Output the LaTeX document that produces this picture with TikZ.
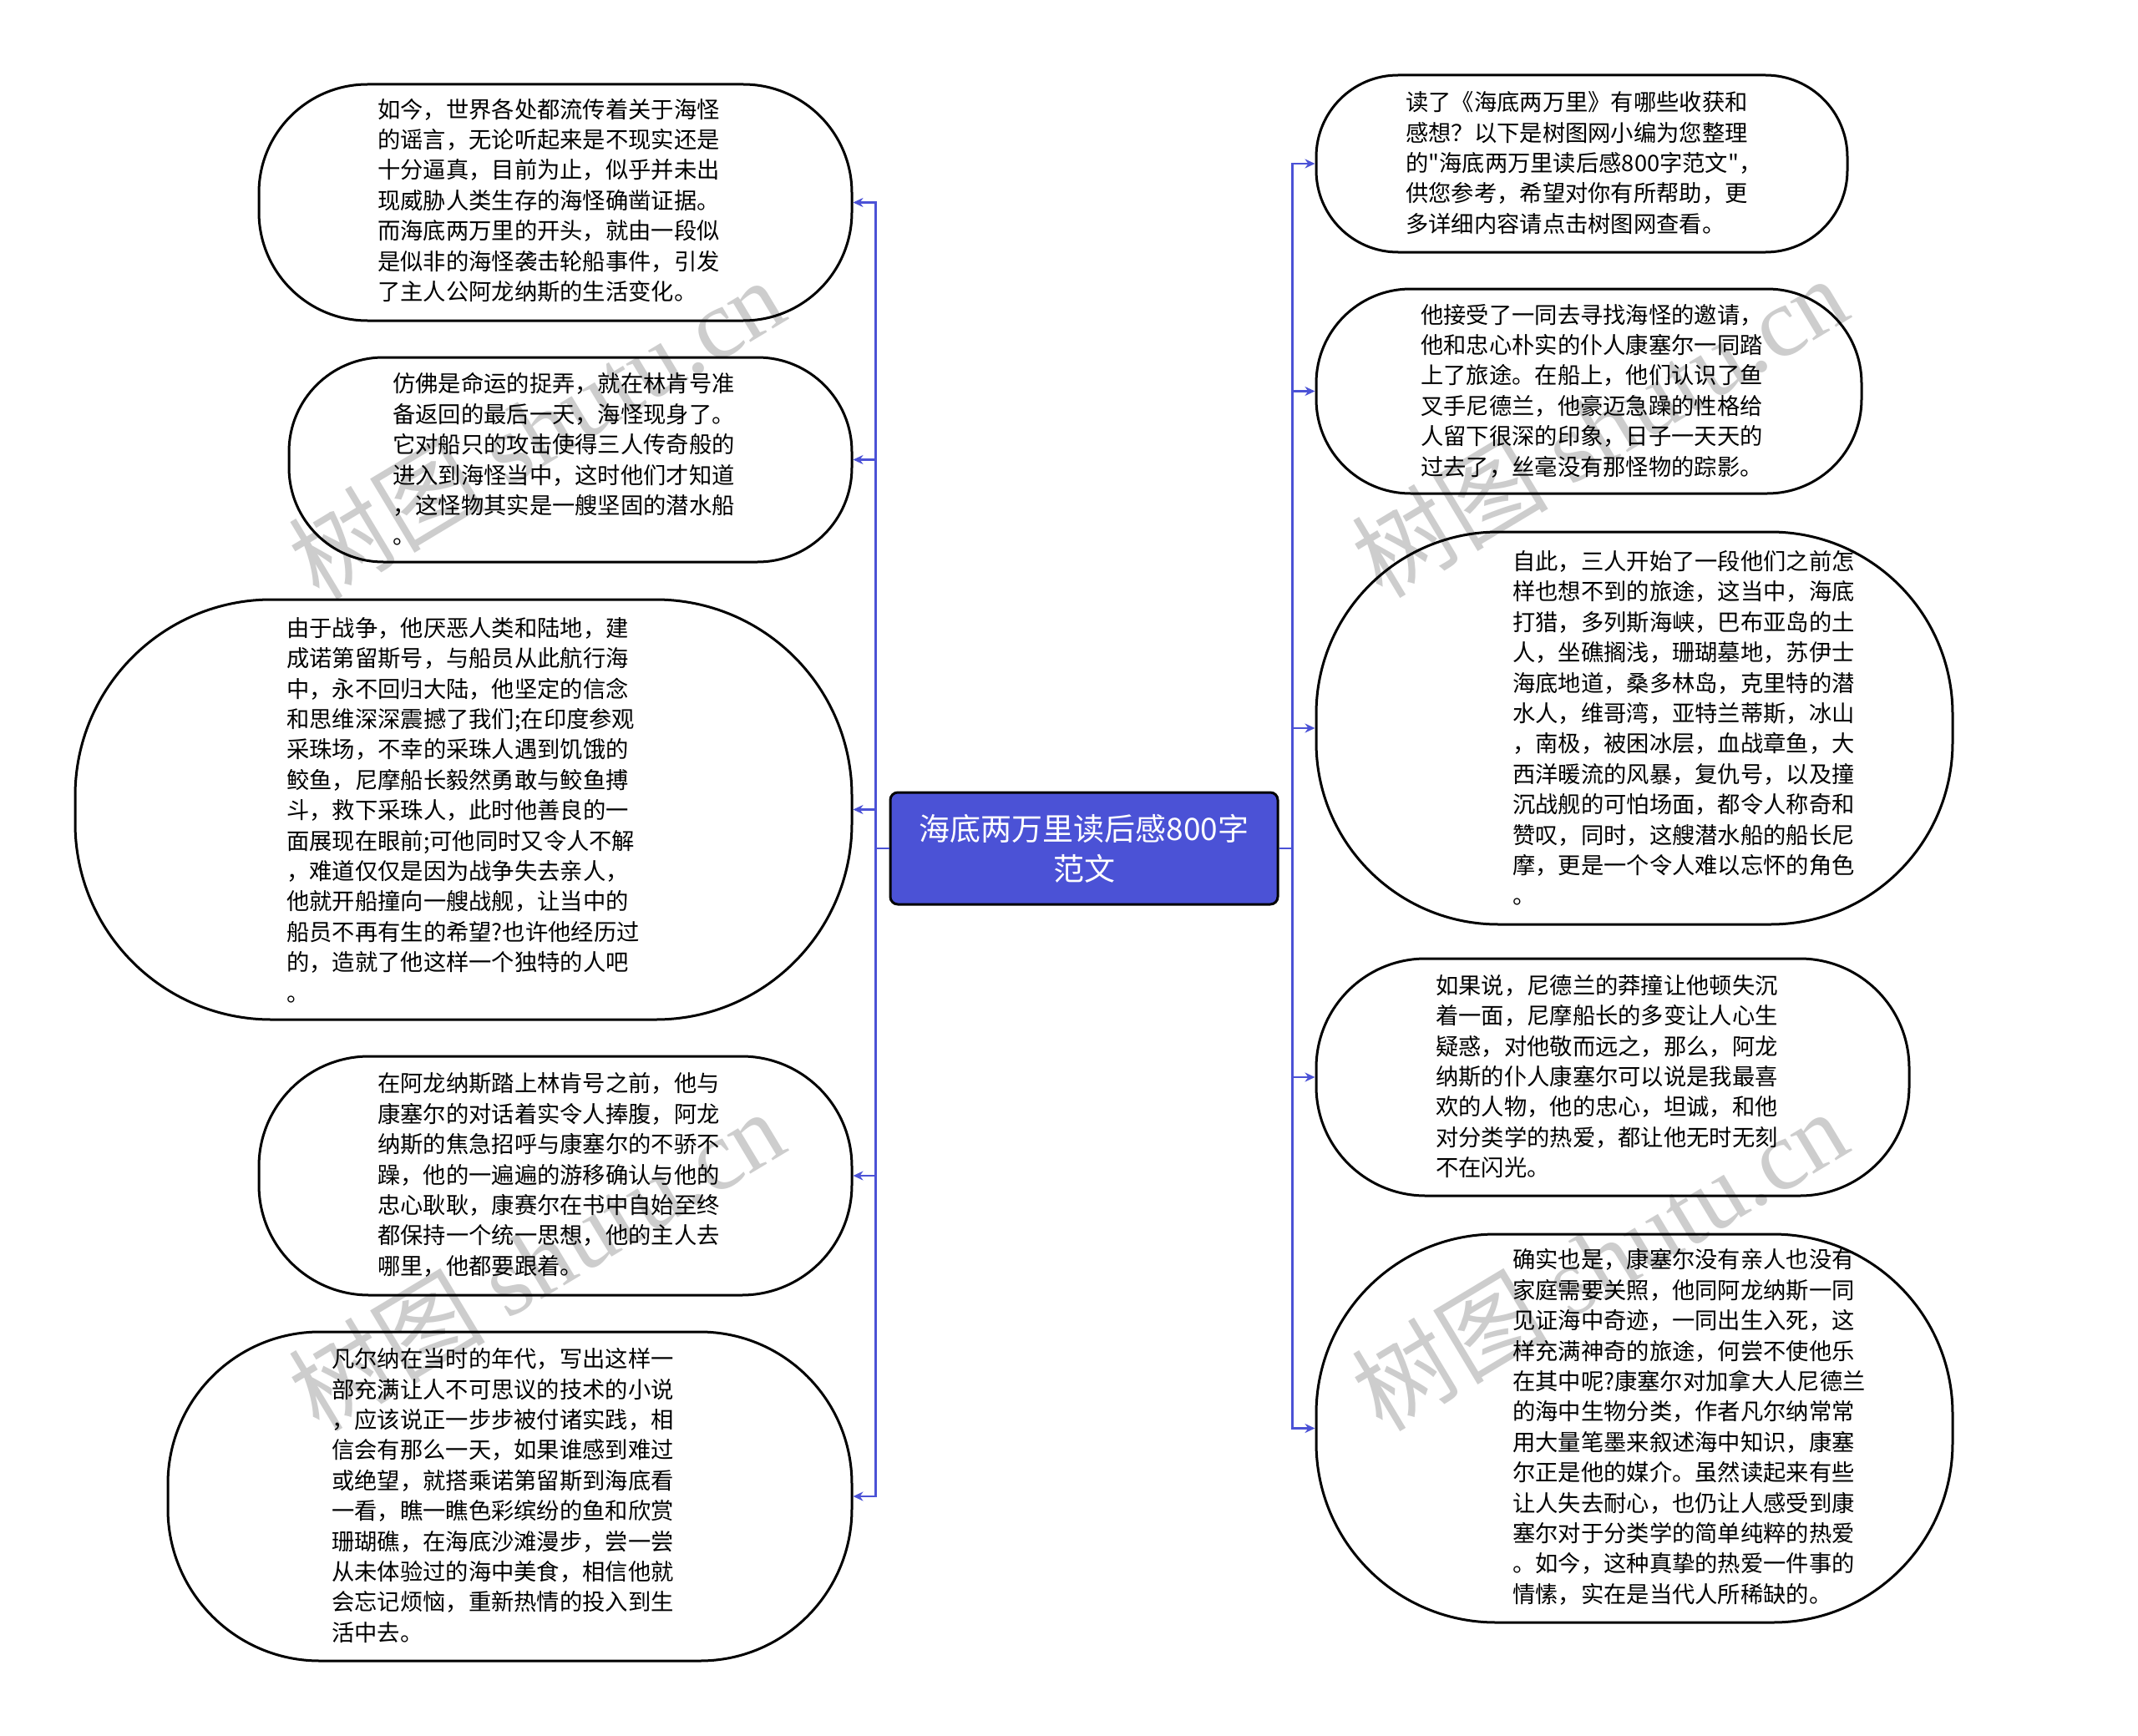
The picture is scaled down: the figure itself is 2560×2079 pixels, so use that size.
\documentclass[tikz,border=0pt]{standalone}
\usepackage{fontspec}
\setmainfont{Noto Sans CJK SC}
\newfontfamily\plaincjk{Noto Sans CJK SC}
\newfontfamily\wmserif{Liberation Serif}
\usetikzlibrary{arrows.meta}
\definecolor{mainblue}{RGB}{75,82,214}
\definecolor{wmgray}{RGB}{205,205,205}
\tikzset{
  leafbox/.style={draw=black, line width=3pt, inner sep=0pt},
  leaftext/.style={anchor=west, align=left, inner sep=0pt, font=\fontsize{27.3pt}{36.4pt}\selectfont},
  conn/.style={draw=mainblue, line width=2.5pt, -{Stealth[length=12pt,width=11pt]}},
  rootbox/.style={draw=black, line width=3pt, fill=mainblue, rounded corners=9pt, text=white, align=center, inner sep=0pt, font=\fontsize{37pt}{48pt}\selectfont},
  wm/.style={text=wmgray, rotate=31, inner sep=0pt, font=\fontsize{118pt}{118pt}\selectfont}
}
\newcommand{\sq}{{\plaincjk"}}
\begin{document}
\begin{tikzpicture}[x=1pt,y=-1pt]
\fill[white] (0,0) rectangle (2560,2079);
\useasboundingbox (0,0) rectangle (2560,2079);

% watermarks
\node[wm] (W1) at (642,512) {树图 {\wmserif shutu.cn}};
\node[wm] (W2) at (642,1508) {树图 {\wmserif shutu.cn}};
\node[wm] (W3) at (1915,510) {树图 {\wmserif shutu.cn}};
\node[wm] (W4) at (1915,1508) {树图 {\wmserif shutu.cn}};

% root
\node[rootbox, minimum width=464pt, minimum height=134pt] (C) at (1298,1016) {海底两万里读后感800字\\范文};

% left boxes
\node[leafbox, minimum width=710pt, minimum height=283pt, rounded corners=130pt] (L1) at (665,242.5) {};
\node[leafbox, minimum width=674pt, minimum height=245pt, rounded corners=113pt] (L2) at (683,550.5) {};
\node[leafbox, minimum width=930pt, minimum height=503pt, rounded corners=235pt] (L3) at (555,969.5) {};
\node[leafbox, minimum width=710pt, minimum height=286pt, rounded corners=132pt] (L4) at (665,1408) {};
\node[leafbox, minimum width=819pt, minimum height=394pt, rounded corners=182pt] (L5) at (610.5,1792) {};

% right boxes
\node[leafbox, minimum width=636pt, minimum height=212pt, rounded corners=98pt] (R1) at (1894,196) {};
\node[leafbox, minimum width=653pt, minimum height=245pt, rounded corners=113pt] (R2) at (1902.5,468.5) {};
\node[leafbox, minimum width=762pt, minimum height=470pt, rounded corners=218pt] (R3) at (1957,872) {};
\node[leafbox, minimum width=710pt, minimum height=284pt, rounded corners=131pt] (R4) at (1931,1290) {};
\node[leafbox, minimum width=762pt, minimum height=465pt, rounded corners=215pt] (R5) at (1957,1710.5) {};

% texts
\node[leaftext] (L1t) at (452,240) {如今，世界各处都流传着关于海怪\\的谣言，无论听起来是不现实还是\\十分逼真，目前为止，似乎并未出\\现威胁人类生存的海怪确凿证据。\\而海底两万里的开头，就由一段似\\是似非的海怪袭击轮船事件，引发\\了主人公阿龙纳斯的生活变化。};
\node[leaftext] (L2t) at (470,550) {仿佛是命运的捉弄，就在林肯号准\\备返回的最后一天，海怪现身了。\\它对船只的攻击使得三人传奇般的\\进入到海怪当中，这时他们才知道\\，这怪物其实是一艘坚固的潜水船\\。};
\node[leaftext] (L3t) at (343,970) {由于战争，他厌恶人类和陆地，建\\成诺第留斯号，与船员从此航行海\\中，永不回归大陆，他坚定的信念\\和思维深深震撼了我们;在印度参观\\采珠场，不幸的采珠人遇到饥饿的\\鲛鱼，尼摩船长毅然勇敢与鲛鱼搏\\斗，救下采珠人，此时他善良的一\\面展现在眼前;可他同时又令人不解\\，难道仅仅是因为战争失去亲人，\\他就开船撞向一艘战舰，让当中的\\船员不再有生的希望?也许他经历过\\的，造就了他这样一个独特的人吧\\。};
\node[leaftext] (L4t) at (452,1407) {在阿龙纳斯踏上林肯号之前，他与\\康塞尔的对话着实令人捧腹，阿龙\\纳斯的焦急招呼与康塞尔的不骄不\\躁，他的一遍遍的游移确认与他的\\忠心耿耿，康赛尔在书中自始至终\\都保持一个统一思想，他的主人去\\哪里，他都要跟着。};
\node[leaftext] (L5t) at (397,1791) {凡尔纳在当时的年代，写出这样一\\部充满让人不可思议的技术的小说\\，应该说正一步步被付诸实践，相\\信会有那么一天，如果谁感到难过\\或绝望，就搭乘诺第留斯到海底看\\一看，瞧一瞧色彩缤纷的鱼和欣赏\\珊瑚礁，在海底沙滩漫步，尝一尝\\从未体验过的海中美食，相信他就\\会忘记烦恼，重新热情的投入到生\\活中去。};
\node[leaftext] (R1t) at (1683,195) {读了《海底两万里》有哪些收获和\\感想？以下是树图网小编为您整理\\的\sq 海底两万里读后感800字范文\sq ，\\供您参考，希望对你有所帮助，更\\多详细内容请点击树图网查看。};
\node[leaftext] (R2t) at (1701,468) {他接受了一同去寻找海怪的邀请，\\他和忠心朴实的仆人康塞尔一同踏\\上了旅途。在船上，他们认识了鱼\\叉手尼德兰，他豪迈急躁的性格给\\人留下很深的印象，日子一天天的\\过去了，丝毫没有那怪物的踪影。};
\node[leaftext] (R3t) at (1811,872) {自此，三人开始了一段他们之前怎\\样也想不到的旅途，这当中，海底\\打猎，多列斯海峡，巴布亚岛的土\\人，坐礁搁浅，珊瑚墓地，苏伊士\\海底地道，桑多林岛，克里特的潜\\水人，维哥湾，亚特兰蒂斯，冰山\\，南极，被困冰层，血战章鱼，大\\西洋暖流的风暴，复仇号，以及撞\\沉战舰的可怕场面，都令人称奇和\\赞叹，同时，这艘潜水船的船长尼\\摩，更是一个令人难以忘怀的角色\\。};
\node[leaftext] (R4t) at (1719,1289) {如果说，尼德兰的莽撞让他顿失沉\\着一面，尼摩船长的多变让人心生\\疑惑，对他敬而远之，那么，阿龙\\纳斯的仆人康塞尔可以说是我最喜\\欢的人物，他的忠心，坦诚，和他\\对分类学的热爱，都让他无时无刻\\不在闪光。};
\node[leaftext] (R5t) at (1811,1709) {确实也是，康塞尔没有亲人也没有\\家庭需要关照，他同阿龙纳斯一同\\见证海中奇迹，一同出生入死，这\\样充满神奇的旅途，何尝不使他乐\\在其中呢?康塞尔对加拿大人尼德兰\\的海中生物分类，作者凡尔纳常常\\用大量笔墨来叙述海中知识，康塞\\尔正是他的媒介。虽然读起来有些\\让人失去耐心，也仍让人感受到康\\塞尔对于分类学的简单纯粹的热爱\\。如今，这种真挚的热爱一件事的\\情愫，实在是当代人所稀缺的。};

% connectors
\foreach \n in {L1,L2,L3,L4,L5}
  \draw[conn] (C.west) -- ++(-16,0) |- (\n.east);
\foreach \n in {R1,R2,R3,R4,R5}
  \draw[conn] (C.east) -- ++(16,0) |- (\n.west);
\end{tikzpicture}
\end{document}
